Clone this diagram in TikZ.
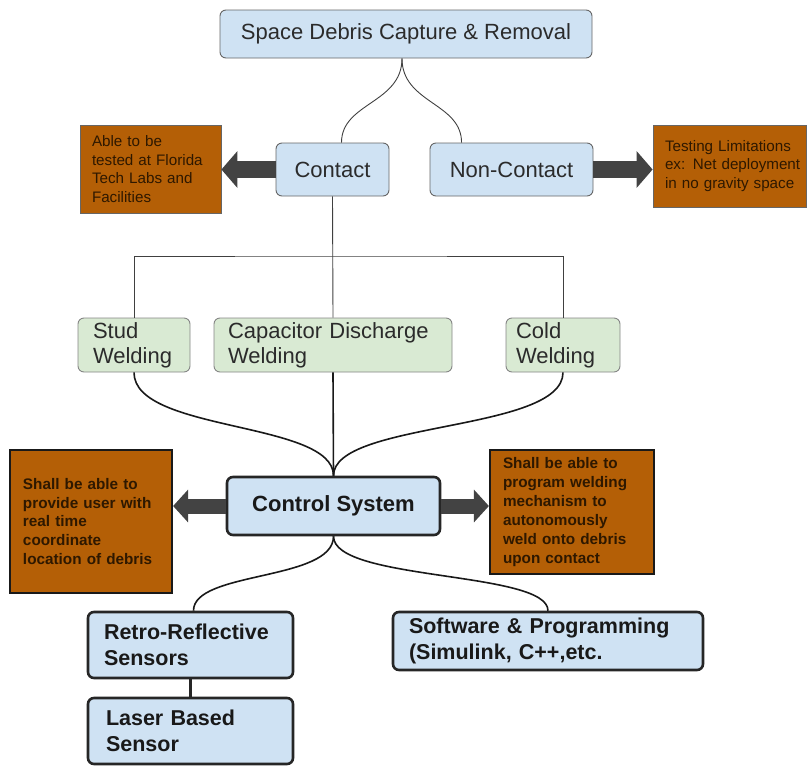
\documentclass[tikz,border=0pt]{standalone}
\usepackage{fontspec}
\setmainfont{Liberation Sans}
\usetikzlibrary{arrows.meta,calc}
\definecolor{bluef}{HTML}{CFE2F3}
\definecolor{greenf}{HTML}{D9EAD3}
\definecolor{orangef}{HTML}{B45F06}
\definecolor{arrowc}{HTML}{434343}
\definecolor{bordg}{HTML}{666666}
\definecolor{otext}{HTML}{2E1800}
\definecolor{btext}{HTML}{2B2B2B}
\tikzset{
  base/.style={rectangle, rounded corners=6pt, inner ysep=0pt, align=left, text=btext,
    font=\fontsize{22}{25}\selectfont},
  bluebox/.style={base, fill=bluef, draw=bordg, line width=0.9pt},
  greenbox/.style={base, fill=greenf, draw=bordg!80, line width=0.9pt},
  boldbox/.style={base, fill=bluef, draw=black!85, line width=2.6pt, text=black!90,
    font=\bfseries\fontsize{21.5}{26}\selectfont},
  obox/.style={rectangle, fill=orangef, text=otext, inner ysep=0pt, align=left,
    font=\fontsize{15.2}{18.5}\selectfont},
  othin/.style={obox, draw=bordg, line width=0.8pt},
  othick/.style={obox, draw=black!90, line width=2.2pt,
    font=\bfseries\fontsize{15.3}{18.9}\selectfont},
  bigarrow/.style={draw=arrowc, line width=17pt, -{Triangle[length=16pt,width=36pt]}},
  smallarrow/.style={draw=arrowc, line width=15pt, -{Triangle[length=15pt,width=32pt]}},
  thinline/.style={draw=black!75, line width=0.9pt},
  curve/.style={draw=black!90, line width=1.6pt},
}
\begin{document}
\begin{tikzpicture}[x=1pt,y=-1pt]
\useasboundingbox (0,0) rectangle (809,769);

% top level
\node[bluebox, align=center, minimum width=372pt, minimum height=48pt] (top) at (406,34) {Space Debris Capture \& Removal};
\node[bluebox, align=center, minimum width=113pt, minimum height=53pt] (contact) at (332.5,169.5) {Contact};
\node[bluebox, align=center, minimum width=163pt, minimum height=53pt] (nc) at (511.5,169.5) {Non-Contact};

\node[othin, minimum width=141pt, minimum height=88pt, inner xsep=12pt, text width=117pt]
  (otl) at (150.5,169) {\mbox{Able to be}\\\mbox{tested at Florida}\\\mbox{Tech Labs and}\\\mbox{Facilities}};
\node[othin, minimum width=153pt, minimum height=82pt, inner xsep=12pt, text width=129pt]
  (otr) at (729.5,166) {\mbox{Testing Limitations}\\\mbox{ex: Net deployment}\\\mbox{in no gravity space}};

% welding level
\node[greenbox, minimum width=112pt, minimum height=54pt, inner xsep=15pt, text width=82pt]
  (stud) at (134,345) {\mbox{Stud}\\\mbox{Welding}};
\node[greenbox, minimum width=238pt, minimum height=54pt, inner xsep=14pt, text width=210pt]
  (cap) at (333,345) {\mbox{Capacitor Discharge}\\\mbox{Welding}};
\node[greenbox, minimum width=114pt, minimum height=54pt, inner xsep=10pt, text width=94pt]
  (cold) at (563,345) {\mbox{Cold}\\\mbox{Welding}};

% control level
\node[boldbox, align=center, minimum width=213pt, minimum height=58pt,
  font=\bfseries\fontsize{22}{25}\selectfont] (ctrl) at (333.5,506) {Control System};
\node[othick, minimum width=162pt, minimum height=143pt, inner xsep=13pt, text width=136pt]
  (obl) at (91,521.5) {\mbox{Shall be able to}\\\mbox{provide user with}\\\mbox{real time}\\\mbox{coordinate}\\\mbox{location of debris}};
\node[othick, minimum width=164pt, minimum height=124pt, inner xsep=13pt, text width=138pt]
  (obr) at (572,512) {\mbox{Shall be able to}\\\mbox{program welding}\\\mbox{mechanism to}\\\mbox{autonomously}\\\mbox{weld onto debris}\\\mbox{upon contact}};

% bottom level
\node[boldbox, minimum width=205pt, minimum height=66pt, inner xsep=16pt, text width=173pt]
  (retro) at (190.5,645) {\mbox{Retro-Reflective}\\\mbox{Sensors}};
\node[boldbox, minimum width=310pt, minimum height=58pt, inner xsep=16pt, text width=278pt]
  (sw) at (548,641) {\mbox{Software \& Programming}\\\mbox{(Simulink, C++,etc.}};
\node[boldbox, minimum width=205pt, minimum height=66pt, inner xsep=18pt, text width=169pt]
  (laser) at (190.5,731) {\mbox{Laser Based}\\\mbox{Sensor}};

% connectors top
\coordinate (split) at ($(top.south)+(-4,0)$);
\draw[thinline] (split) .. controls +(0,45) and +(0,-40) .. ($(contact.north)+(9,0)$);
\draw[thinline] (split) .. controls +(0,45) and +(0,-40) .. ($(nc.north west)+(32,0)$);

\draw[bigarrow] (contact.west) -- (otl.east |- contact.west);
\draw[bigarrow] (nc.east) -- (otr.west |- nc.east);

\coordinate (bar) at (333,256);
\draw[thinline] (contact.south) -- (cap.north);
\draw[thinline] (stud.north) |- (bar) -| (cold.north);

% welding to control
\draw[curve] (stud.south) .. controls +(0,60) and +(0,-55) .. (ctrl.north);
\draw[curve] (cold.south) .. controls +(0,60) and +(0,-55) .. (ctrl.north);
\draw[curve] (cap.south) -- (ctrl.north);

\draw[smallarrow] (ctrl.west) -- (obl.east |- ctrl.west);
\draw[smallarrow] (ctrl.east) -- (obr.west |- ctrl.east);

% control to bottom
\draw[curve] (ctrl.south) .. controls +(0,45) and +(0,-40) .. ($(retro.north)+(3,0)$);
\draw[curve] (ctrl.south) .. controls +(0,45) and +(0,-40) .. (sw.north);
\draw[draw=black!85, line width=2.2pt] (retro.south) -- (laser.north);
\end{tikzpicture}
\end{document}
